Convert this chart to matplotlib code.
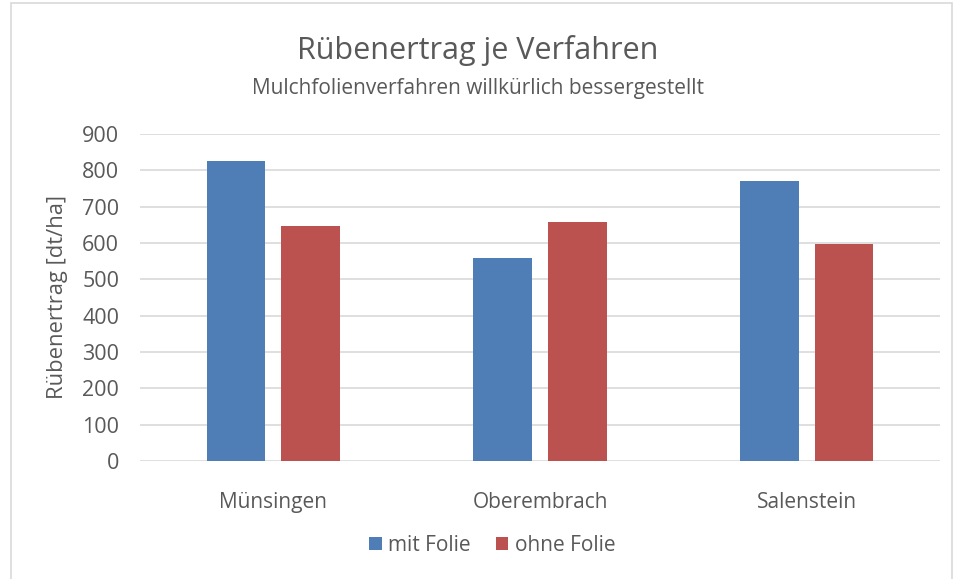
import matplotlib.pyplot as plt
import numpy as np
from matplotlib.patches import Rectangle

# Daten
orte = ['Münsingen', 'Oberembrach', 'Salenstein']
mit_folie = [827, 558, 770]
ohne_folie = [647, 658, 598]
yticks = [0, 100, 200, 300, 400, 500, 600, 700, 800, 900]

plt.rcParams['font.family'] = ['Open Sans', 'DejaVu Sans']
grau = '#595959'

fig = plt.figure(figsize=(9.56, 5.79), dpi=100)
ax = fig.add_axes([0.1464, 0.2038, 0.837, 0.5648])

x = np.arange(len(orte))
b = 0.22
ax.bar(x - 0.14, mit_folie, b, color='#4F7EB7', label='mit Folie', zorder=3)
ax.bar(x + 0.14, ohne_folie, b, color='#BC524F', label='ohne Folie', zorder=3)

ax.set_xlim(-0.5, 2.5)
ax.set_ylim(0, 900)
ax.set_yticks(yticks)
ax.set_xticks(x)
ax.set_xticklabels(orte)
ax.grid(axis='y', color='#D9D9D9', linewidth=1.2, zorder=0)
for s in ax.spines.values():
    s.set_visible(False)
ax.tick_params(length=0, labelsize=15, colors=grau)
ax.tick_params(axis='y', pad=15, labelsize=15.5)
ax.tick_params(axis='x', pad=22)
ax.set_ylabel('Rübenertrag [dt/ha]', fontsize=15.8, color=grau, labelpad=10)

fig.text(0.5, 0.912, 'Rübenertrag je Verfahren', ha='center', va='center',
         fontsize=22, color=grau)
fig.text(0.5, 0.848, 'Mulchfolienverfahren willkürlich bessergestellt', ha='center',
         va='center', fontsize=15, color=grau)

leg = fig.legend(loc='center', bbox_to_anchor=(0.515, 0.058), ncol=2, frameon=False,
                 fontsize=15, handlelength=0.6, handleheight=0.6, handletextpad=0.3,
                 columnspacing=1.2)
for t in leg.get_texts():
    t.set_color(grau)

# Rahmen um das Diagramm
fig.patches.append(Rectangle((0.011, -0.01), 0.985, 1.004, transform=fig.transFigure,
                             fill=False, edgecolor='#D9D9D9', linewidth=1.2))

fig.savefig('out.png', dpi=100)
